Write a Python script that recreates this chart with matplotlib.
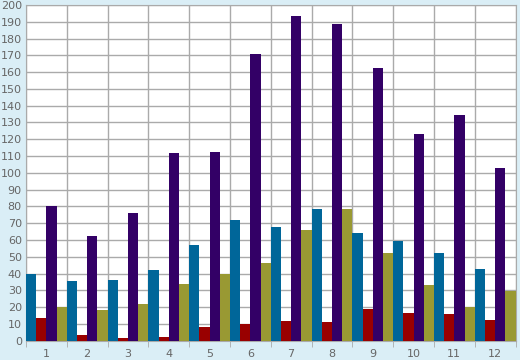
import numpy as np
import matplotlib.pyplot as plt

categories = ['1', '2', '3', '4', '5', '6', '7', '8', '9', '10', '11', '12']
blue = [40, 35.5, 36, 42, 56.8, 72.2, 68, 78.6, 64, 59.6, 52.5, 43]
red = [13.5, 3.3, 1.8, 2.2, 8.3, 10, 11.6, 11, 18.7, 16.4, 15.8, 12.2]
purple = [80.4, 62.6, 76, 111.6, 112.2, 170.8, 193.4, 188.6, 162.4, 123, 134.3, 103.1]
olive = [20, 18.2, 21.8, 34, 40, 46.5, 66, 78.6, 52.5, 33, 20, 29.4]

series = [blue, red, purple, olive]
colors = ['#006699', '#990000', '#330066', '#999933']

bg = '#daeef6'
grid = '#aaaaaa'
txt = '#666666'

fig = plt.figure(figsize=(5.2, 3.6), dpi=100, facecolor=bg)
ax = fig.add_axes([26 / 520, 19.3 / 360, 489.5 / 520, 335.7 / 360])
ax.set_facecolor('white')

x = np.arange(len(categories))
w = 0.25
for k, (vals, c) in enumerate(zip(series, colors)):
    ax.bar(x - 0.375 + k * w, vals, width=w, color=c, zorder=3)

ax.set_xlim(-0.5, len(categories) - 0.5)
ax.set_ylim(0, 200)
ax.set_yticks(range(0, 201, 10))
ax.set_xticks(x)
ax.set_xticklabels(categories)
ax.set_xticks(np.arange(-0.5, len(categories), 1), minor=True)

ax.grid(True, which='minor', axis='x', color=grid, lw=1, zorder=0)
ax.grid(True, which='major', axis='y', color=grid, lw=1, zorder=0)

ax.tick_params(axis='x', which='major', length=0, labelsize=8, colors=txt, pad=6)
ax.tick_params(axis='x', which='minor', length=4, color=grid, direction='out')
ax.tick_params(axis='y', length=0, labelsize=8, colors=txt, pad=3)
for s in ax.spines.values():
    s.set_color(grid)

fig.savefig('out.png', facecolor=bg)
